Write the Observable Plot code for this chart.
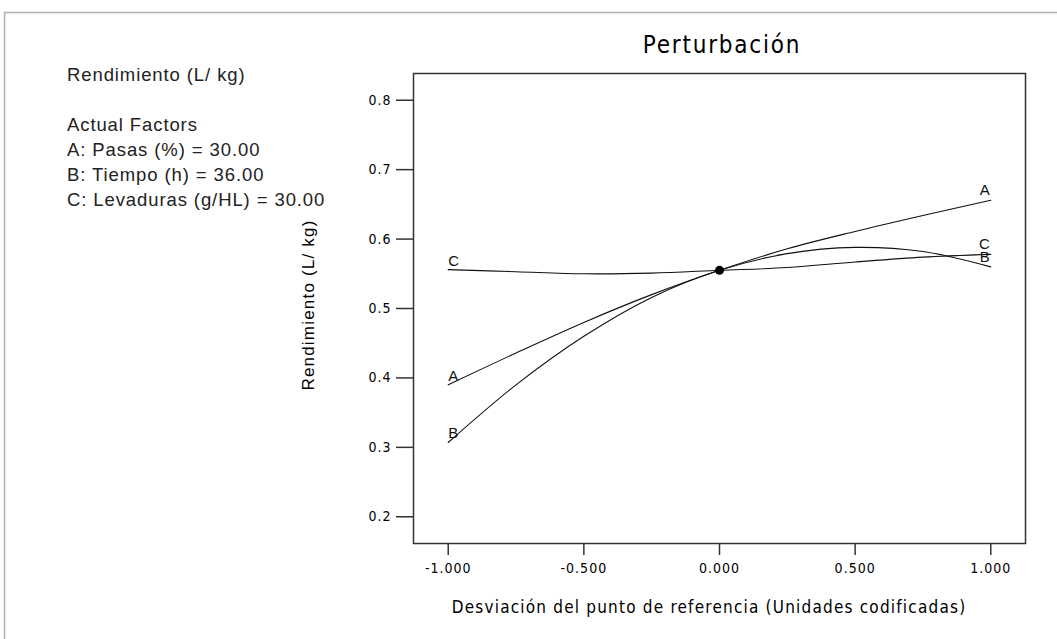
<!DOCTYPE html>
<html>
<head>
<meta charset="utf-8">
<script src="https://cdn.jsdelivr.net/npm/d3@7"></script>
<script src="https://cdn.jsdelivr.net/npm/@observablehq/plot@0.6"></script>
<style>
  body { margin: 0; background: #fff; }
  svg { display: block; }
</style>
</head>
<body>
<div id="chart"></div>
<script>
// Perturbation plot: response at coded deviations of each factor from the reference point
const deviation = [-1, -0.75, -0.5, -0.25, 0, 0.25, 0.5, 0.75, 1];
const factorA = [0.390, 0.436, 0.480, 0.520, 0.555, 0.586, 0.611, 0.634, 0.656];
const factorB = [0.307, 0.390, 0.460, 0.516, 0.555, 0.579, 0.588, 0.582, 0.560];
const factorC = [0.556, 0.553, 0.550, 0.551, 0.555, 0.559, 0.567, 0.574, 0.578];
const factorNames = ["A", "B", "C"];
const yTicks = [0.2, 0.3, 0.4, 0.5, 0.6, 0.7, 0.8];
const xTicks = [-1, -0.5, 0, 0.5, 1];
const referencePoint = [{ x: 0, y: 0.555 }];

const titleText = "Perturbación";
const xTitle = "Desviación del punto de referencia (Unidades codificadas)";
const yTitle = "Rendimiento (L/ kg)";
const infoLines = [
  "Rendimiento (L/ kg)",
  "",
  "Actual Factors",
  "A: Pasas (%) = 30.00",
  "B: Tiempo (h) = 36.00",
  "C: Levaduras (g/HL) = 30.00"
];

// long-format rows for the line mark
const seriesValues = { A: factorA, B: factorB, C: factorC };
const rows = factorNames.flatMap(f =>
  deviation.map((d, i) => ({ factor: f, x: d, y: seriesValues[f][i] }))
);
const leftEnds = rows.filter(r => r.x === deviation[0]);
const rightEnds = rows.filter(r => r.x === deviation[deviation.length - 1]);

const tickFont = "DejaVu Sans Condensed, DejaVu Sans, sans-serif";
const labelFont = "Liberation Sans, Arial, sans-serif";

const chart = Plot.plot({
  width: 1057,
  height: 639,
  marginLeft: 413,
  marginRight: 32,
  marginTop: 73,
  marginBottom: 96,
  style: { background: "#fff", color: "#000", fontFamily: tickFont, fontSize: "14px", letterSpacing: "1px" },
  x: { domain: [-1.128, 1.128] },
  y: { domain: [0.1615, 0.8385] },
  marks: [
    Plot.frame({ stroke: "#333", strokeWidth: 1.5 }),
    Plot.axisX({
      ticks: xTicks, tickSize: 12, tickPadding: 8, stroke: "#333", strokeWidth: 1.5,
      tickFormat: d => d.toFixed(3), fontSize: 14, fill: "#000", label: null
    }),
    Plot.axisY({
      ticks: yTicks, tickSize: 17, tickPadding: 5, stroke: "#333", strokeWidth: 1.5,
      tickFormat: d => d.toFixed(1), fontSize: 14, fill: "#000", label: null
    }),
    Plot.line(rows, {
      x: "x", y: "y", z: "factor", curve: "catmull-rom",
      stroke: "#111", strokeWidth: 1.1
    }),
    Plot.dot(referencePoint, { x: "x", y: "y", r: 4.5, fill: "#000" }),
    Plot.text(leftEnds, {
      x: "x", y: "y", text: "factor", textAnchor: "start", lineAnchor: "bottom",
      dy: -4, fontSize: 15, fontFamily: labelFont, fill: "#111"
    }),
    Plot.text(rightEnds, {
      x: "x", y: "y", text: "factor", textAnchor: "end", lineAnchor: "bottom",
      dy: -5, fontSize: 15, fontFamily: labelFont, fill: "#111"
    })
  ]
});

const svg = d3.select(chart);

// outer panel border
svg.insert("rect", ":first-child")
  .attr("x", 4.5).attr("y", 12.5).attr("width", 1100).attr("height", 700)
  .attr("fill", "none").attr("stroke", "#b0b0b0").attr("stroke-width", 1.5);

svg.append("text")
  .attr("x", 722).attr("y", 53)
  .attr("text-anchor", "middle")
  .attr("font-family", tickFont).attr("font-size", 24)
  .attr("letter-spacing", "1.8px")
  .attr("fill", "#000")
  .text(titleText);

svg.append("text")
  .attr("x", 709).attr("y", 613)
  .attr("text-anchor", "middle")
  .attr("font-family", tickFont).attr("font-size", 17)
  .attr("letter-spacing", "1.2px")
  .attr("fill", "#000")
  .text(xTitle);

svg.append("text")
  .attr("transform", "translate(314,305) rotate(-90)")
  .attr("text-anchor", "middle")
  .attr("font-family", labelFont).attr("font-size", 17)
  .attr("letter-spacing", "1.2px")
  .attr("fill", "#000")
  .text(yTitle);

const info = svg.append("text")
  .attr("text-anchor", "start")
  .attr("font-family", labelFont).attr("font-size", 18.5)
  .attr("letter-spacing", "0.9px")
  .attr("fill", "#222");
infoLines.forEach((line, i) => {
  if (!line) return;
  info.append("tspan").attr("x", 67).attr("y", 81 + i * 25).text(line);
});

document.getElementById("chart").appendChild(chart);
</script>
</body>
</html>
